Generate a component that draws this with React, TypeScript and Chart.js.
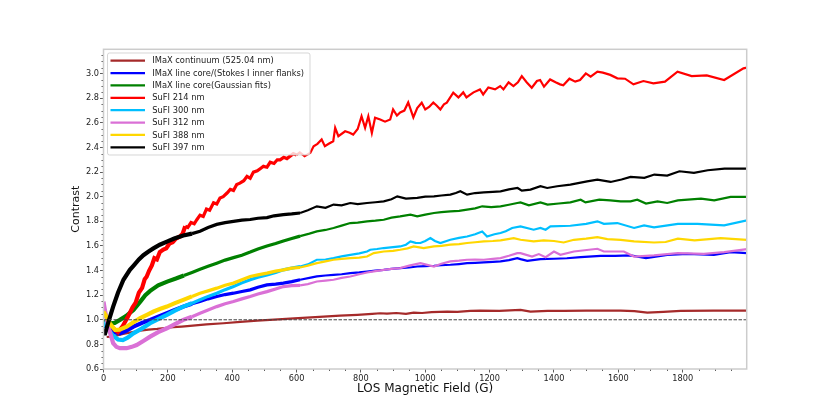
import React, { useEffect, useRef } from 'react';
import { Chart, registerables } from 'chart.js';

Chart.register(...registerables);

// axis ticks
const xTicks = [0, 200, 400, 600, 800, 1000, 1200, 1400, 1600, 1800];
const yTicks = [0.6, 0.8, 1.0, 1.2, 1.4, 1.6, 1.8, 2.0, 2.2, 2.4, 2.6, 2.8, 3.0];

// [B (G), contrast]
const imaxContinuum = [
  [10, 0.86], [30, 0.865], [61, 0.885], [90, 0.9], [114, 0.912], [140, 0.92], [167, 0.926], [190, 0.933],
  [217, 0.94], [243, 0.945], [269, 0.95], [320, 0.962], [373, 0.972], [425, 0.983], [478, 0.993], [530, 1.002],
  [580, 1.01], [632, 1.018], [684, 1.026], [735, 1.033], [789, 1.04], [835, 1.048], [860, 1.053], [881, 1.05],
  [910, 1.055], [940, 1.048], [964, 1.058], [990, 1.055], [1020, 1.062], [1068, 1.067], [1100, 1.065],
  [1140, 1.072], [1171, 1.075], [1230, 1.072], [1296, 1.08], [1327, 1.067], [1380, 1.072], [1431, 1.072],
  [1500, 1.075], [1607, 1.075], [1650, 1.07], [1690, 1.058], [1740, 1.065], [1794, 1.072], [1897, 1.075],
  [2000, 1.075],
];

const imaxStokes = [
  [0, 0.96], [15, 0.93], [30, 0.9], [51, 0.89], [70, 0.91], [93, 0.944], [120, 0.975], [145, 0.999],
  [170, 1.025], [197, 1.053], [222, 1.08], [248, 1.107], [275, 1.13], [300, 1.148], [325, 1.17], [352, 1.189],
  [378, 1.205], [404, 1.216], [430, 1.23], [456, 1.243], [480, 1.265], [508, 1.284], [535, 1.29], [559, 1.298],
  [585, 1.31], [611, 1.325], [640, 1.34], [663, 1.352], [690, 1.36], [715, 1.365], [740, 1.37], [767, 1.379],
  [795, 1.385], [819, 1.392], [845, 1.4], [871, 1.406], [895, 1.413], [922, 1.42], [950, 1.425], [975, 1.433],
  [1000, 1.436], [1027, 1.439], [1050, 1.443], [1078, 1.447], [1105, 1.453], [1130, 1.46], [1155, 1.463],
  [1182, 1.466], [1210, 1.47], [1234, 1.474], [1260, 1.485], [1286, 1.501], [1296, 1.493], [1317, 1.479],
  [1358, 1.493], [1400, 1.496], [1440, 1.5], [1483, 1.509], [1545, 1.52], [1590, 1.52], [1638, 1.523],
  [1686, 1.501], [1752, 1.528], [1815, 1.536], [1897, 1.528], [1949, 1.55], [2000, 1.542],
];

const imaxGauss = [
  [0, 0.99], [10, 0.97], [20, 0.972], [35, 0.975], [51, 0.999], [70, 1.03], [93, 1.08], [115, 1.15],
  [130, 1.2], [145, 1.235], [170, 1.28], [198, 1.31], [225, 1.335], [250, 1.36], [275, 1.385], [300, 1.41],
  [325, 1.435], [352, 1.46], [378, 1.485], [404, 1.505], [430, 1.525], [456, 1.55], [480, 1.575], [508, 1.6],
  [535, 1.62], [559, 1.64], [585, 1.66], [611, 1.68], [640, 1.7], [663, 1.718], [690, 1.73], [715, 1.746],
  [740, 1.765], [767, 1.786], [790, 1.79], [819, 1.8], [845, 1.805], [871, 1.813], [895, 1.83], [922, 1.84],
  [954, 1.854], [975, 1.84], [1000, 1.855], [1027, 1.868], [1050, 1.875], [1078, 1.881], [1105, 1.885],
  [1130, 1.895], [1155, 1.905], [1177, 1.922], [1205, 1.915], [1234, 1.922], [1260, 1.935], [1286, 1.949],
  [1296, 1.954], [1322, 1.93], [1358, 1.954], [1380, 1.936], [1415, 1.945], [1451, 1.954], [1483, 1.976],
  [1498, 1.954], [1541, 1.976], [1575, 1.97], [1607, 1.962], [1638, 1.962], [1659, 1.976], [1686, 1.944],
  [1722, 1.962], [1752, 1.949], [1785, 1.97], [1857, 1.984], [1898, 1.97], [1949, 1.998], [2000, 1.998],
];

const sufi214 = [
  [30, 0.93], [45, 0.9], [60, 0.95], [75, 1.02], [90, 1.1], [100, 1.14], [110, 1.22], [120, 1.26], [128, 1.33],
  [134, 1.35], [142, 1.4], [150, 1.44], [158, 1.5], [166, 1.49], [175, 1.55], [186, 1.57], [195, 1.58],
  [205, 1.62], [215, 1.63], [225, 1.66], [238, 1.677], [246, 1.7], [254, 1.76], [262, 1.75], [272, 1.79],
  [282, 1.78], [290, 1.813], [300, 1.85], [310, 1.84], [320, 1.9], [330, 1.89], [342, 1.95], [352, 1.94],
  [362, 1.99], [372, 2.0], [384, 2.03], [394, 2.06], [404, 2.05], [414, 2.1], [424, 2.11], [436, 2.13],
  [446, 2.166], [456, 2.15], [466, 2.2], [478, 2.21], [488, 2.23], [497, 2.247], [508, 2.24], [518, 2.28],
  [530, 2.27], [540, 2.3], [549, 2.3], [560, 2.32], [570, 2.31], [580, 2.33], [590, 2.35], [600, 2.34],
  [610, 2.36], [625, 2.33], [643, 2.357], [653, 2.41], [665, 2.43], [678, 2.465],
  [688, 2.41], [700, 2.43], [714, 2.451], [720, 2.56], [730, 2.492], [751, 2.532], [765, 2.52], [776, 2.505],
  [790, 2.55], [802, 2.654], [813, 2.56], [823, 2.654], [834, 2.519], [844, 2.642], [860, 2.628], [875, 2.61],
  [891, 2.628], [900, 2.709], [912, 2.66], [922, 2.685], [935, 2.7], [947, 2.766], [963, 2.644], [975, 2.72],
  [989, 2.764], [1000, 2.709], [1012, 2.73], [1025, 2.766], [1036, 2.74], [1047, 2.709], [1058, 2.75],
  [1067, 2.764], [1087, 2.845], [1103, 2.807], [1118, 2.848], [1128, 2.807], [1140, 2.83], [1150, 2.848],
  [1170, 2.872], [1180, 2.831], [1196, 2.888], [1217, 2.872], [1233, 2.899], [1243, 2.872], [1259, 2.929],
  [1274, 2.899], [1288, 2.93], [1300, 2.98], [1315, 2.93], [1331, 2.886], [1347, 2.94], [1357, 2.948],
  [1369, 2.894], [1388, 2.953], [1405, 2.93], [1419, 2.913], [1429, 2.905], [1448, 2.959], [1466, 2.935],
  [1481, 2.948], [1499, 3.002], [1514, 2.975], [1535, 3.016], [1552, 3.008], [1575, 2.99], [1597, 2.962],
  [1621, 2.959], [1647, 2.913], [1678, 2.94], [1709, 2.921], [1745, 2.935], [1784, 3.016], [1828, 2.98],
  [1875, 2.986], [1929, 2.948], [1989, 3.043], [2000, 3.05],
];

const sufi300 = [
  [0, 0.98], [15, 0.92], [30, 0.87], [45, 0.84], [60, 0.835], [75, 0.855], [93, 0.89], [120, 0.93],
  [145, 0.972], [170, 1.005], [197, 1.04], [222, 1.075], [248, 1.107], [275, 1.135], [300, 1.162], [325, 1.19],
  [352, 1.216], [378, 1.245], [404, 1.27], [430, 1.3], [456, 1.325], [480, 1.345], [508, 1.365], [535, 1.385],
  [559, 1.406], [585, 1.42], [611, 1.433], [635, 1.45], [663, 1.488], [690, 1.49], [715, 1.501], [740, 1.515],
  [767, 1.528], [795, 1.54], [819, 1.555], [829, 1.569], [850, 1.575], [871, 1.583], [900, 1.59], [922, 1.596],
  [940, 1.61], [954, 1.637], [970, 1.625], [985, 1.624], [1000, 1.64], [1016, 1.664], [1030, 1.64],
  [1047, 1.624], [1078, 1.65], [1105, 1.665], [1130, 1.677], [1155, 1.695], [1177, 1.718], [1192, 1.677],
  [1215, 1.695], [1234, 1.705], [1250, 1.72], [1270, 1.746], [1296, 1.759], [1337, 1.732], [1358, 1.746],
  [1374, 1.732], [1389, 1.759], [1451, 1.764], [1500, 1.78], [1535, 1.8], [1555, 1.78], [1597, 1.786],
  [1649, 1.746], [1680, 1.767], [1711, 1.751], [1785, 1.78], [1846, 1.78], [1929, 1.767], [2000, 1.808],
];

const sufi312 = [
  [0, 1.148], [5, 1.07], [15, 0.944], [30, 0.81], [40, 0.78], [51, 0.769], [72, 0.769], [88, 0.78],
  [103, 0.795], [125, 0.83], [145, 0.863], [170, 0.9], [197, 0.931], [222, 0.965], [248, 0.999], [275, 1.025],
  [300, 1.053], [325, 1.08], [352, 1.107], [378, 1.13], [404, 1.148], [430, 1.17], [456, 1.189], [480, 1.21],
  [508, 1.229], [535, 1.25], [559, 1.27], [585, 1.278], [611, 1.28], [635, 1.29], [663, 1.311], [690, 1.318],
  [715, 1.325], [740, 1.34], [767, 1.352], [795, 1.37], [819, 1.384], [845, 1.395], [871, 1.406], [895, 1.413],
  [922, 1.42], [950, 1.44], [985, 1.46], [1000, 1.45], [1027, 1.433], [1050, 1.455], [1078, 1.474],
  [1105, 1.48], [1130, 1.488], [1155, 1.49], [1182, 1.488], [1210, 1.495], [1234, 1.501], [1260, 1.52],
  [1286, 1.542], [1296, 1.542], [1332, 1.514], [1353, 1.534], [1374, 1.509], [1400, 1.555], [1420, 1.528],
  [1462, 1.555], [1535, 1.577], [1555, 1.555], [1617, 1.555], [1649, 1.514], [1711, 1.523], [1785, 1.542],
  [1866, 1.536], [1929, 1.55], [2000, 1.575],
];

const sufi388 = [
  [0, 1.067], [10, 1.02], [20, 0.97], [36, 0.918], [50, 0.92], [72, 0.944], [93, 0.98], [114, 1.013],
  [135, 1.04], [156, 1.067], [177, 1.09], [197, 1.107], [222, 1.135], [248, 1.162], [275, 1.19], [300, 1.216],
  [325, 1.235], [352, 1.257], [378, 1.28], [404, 1.298], [430, 1.325], [456, 1.352], [480, 1.365], [508, 1.379],
  [535, 1.395], [559, 1.406], [585, 1.42], [611, 1.425], [635, 1.44], [663, 1.46], [690, 1.475], [715, 1.488],
  [740, 1.495], [767, 1.501], [795, 1.505], [819, 1.514], [840, 1.542], [871, 1.555], [900, 1.56], [922, 1.569],
  [945, 1.58], [964, 1.596], [995, 1.583], [1027, 1.596], [1050, 1.6], [1078, 1.61], [1105, 1.615],
  [1130, 1.624], [1155, 1.63], [1182, 1.637], [1210, 1.64], [1234, 1.645], [1275, 1.664], [1296, 1.65],
  [1337, 1.637], [1368, 1.645], [1400, 1.64], [1430, 1.628], [1462, 1.65], [1500, 1.66], [1535, 1.672],
  [1566, 1.656], [1607, 1.65], [1649, 1.637], [1711, 1.628], [1747, 1.632], [1785, 1.659], [1837, 1.645],
  [1918, 1.664], [2000, 1.65],
];

const sufi397 = [
  [0, 0.89], [5, 0.89], [15, 0.98], [30, 1.107], [45, 1.22], [62, 1.325], [82, 1.406], [95, 1.445],
  [110, 1.49], [124, 1.525], [140, 1.555], [155, 1.58], [175, 1.61], [197, 1.635], [220, 1.66], [248, 1.685],
  [275, 1.7], [300, 1.72], [325, 1.75], [352, 1.775], [378, 1.79], [404, 1.8], [430, 1.81], [456, 1.815],
  [480, 1.825], [508, 1.83], [530, 1.845], [559, 1.854], [585, 1.86], [611, 1.868], [635, 1.89], [663, 1.922],
  [690, 1.91], [715, 1.936], [740, 1.93], [767, 1.949], [790, 1.94], [819, 1.949], [845, 1.955], [871, 1.962],
  [895, 1.98], [913, 2.003], [940, 1.985], [975, 1.99], [1000, 2.0], [1027, 2.003], [1050, 2.01],
  [1078, 2.017], [1095, 2.03], [1109, 2.044], [1130, 2.017], [1155, 2.03], [1182, 2.036], [1210, 2.04],
  [1234, 2.044], [1260, 2.06], [1287, 2.071], [1300, 2.05], [1327, 2.058], [1358, 2.085], [1379, 2.071],
  [1410, 2.085], [1451, 2.098], [1475, 2.11], [1503, 2.125], [1535, 2.139], [1576, 2.12], [1610, 2.14],
  [1638, 2.161], [1681, 2.153], [1712, 2.18], [1752, 2.172], [1790, 2.207], [1835, 2.194], [1878, 2.215],
  [1930, 2.229], [2000, 2.229],
];

const unityLine = [[0, 1.0], [2000, 1.0]];

const seriesLabels = [
  'IMaX continuum (525.04 nm)',
  'IMaX line core/(Stokes I inner flanks)',
  'IMaX line core(Gaussian fits)',
  'SuFI 214 nm',
  'SuFI 300 nm',
  'SuFI 312 nm',
  'SuFI 388 nm',
  'SuFI 397 nm',
];
const seriesColors = ['#a52a2a', '#0000ff', '#008000', '#ff0000', '#00bfff', '#da70d6', '#ffd700', '#000000'];
const seriesData = [imaxContinuum, imaxStokes, imaxGauss, sufi214, sufi300, sufi312, sufi388, sufi397];

const FONT = "'DejaVu Sans', sans-serif";

// noisy low-field part of the curves reads as a thicker band
const bandWidth = (x: number) => (x < 250 ? 4.2 : x < 600 ? 3.2 : 2.2);

const decorPlugin = {
  id: 'decor',
  afterDatasetsDraw(chart: any) {
    const { ctx, chartArea: a, scales } = chart;
    const xs = scales.x;
    const ys = scales.y;
    ctx.save();

    // minor ticks
    ctx.strokeStyle = '#333';
    ctx.lineWidth = 0.8;
    ctx.beginPath();
    for (let v = 0; v <= 2000; v += 50) {
      if (v % 200 === 0) continue;
      const px = Math.round(xs.getPixelForValue(v)) + 0.5;
      if (px > a.right) break;
      ctx.moveTo(px, a.bottom);
      ctx.lineTo(px, a.bottom + 2);
    }
    for (let i = 12; i <= 64; i++) {
      if (i % 4 === 0) continue;
      const py = Math.round(ys.getPixelForValue(i * 0.05)) + 0.5;
      if (py < a.top) break;
      ctx.moveTo(a.left, py);
      ctx.lineTo(a.left - 2, py);
    }
    ctx.stroke();

    // frame
    ctx.strokeStyle = '#cccccc';
    ctx.lineWidth = 1.5;
    ctx.strokeRect(a.left, a.top, a.right - a.left, a.bottom - a.top);

    // legend
    const bx = 107.5;
    const by = 53;
    const bw = 202.5;
    const bh = 102;
    ctx.beginPath();
    ctx.roundRect(bx, by, bw, bh, 2);
    ctx.fillStyle = 'rgba(255,255,255,0.8)';
    ctx.fill();
    ctx.strokeStyle = 'rgba(204,204,204,0.8)';
    ctx.lineWidth = 1;
    ctx.stroke();
    ctx.font = `8.3px ${FONT}`;
    ctx.textBaseline = 'middle';
    seriesLabels.forEach((label, i) => {
      const y = 60.7 + i * 12.37;
      ctx.strokeStyle = seriesColors[i];
      ctx.lineWidth = 2.2;
      ctx.beginPath();
      ctx.moveTo(110.5, y);
      ctx.lineTo(145, y);
      ctx.stroke();
      ctx.fillStyle = '#222';
      ctx.fillText(label, 152.3, y + 0.5);
    });
    ctx.restore();
  },
};

const App = () => {
  const canvasRef = useRef<HTMLCanvasElement>(null);

  useEffect(() => {
    document.body.style.margin = '0';
    if (!canvasRef.current) return;
    const datasets: any[] = seriesData.map((d, i) => ({
      label: seriesLabels[i],
      data: d,
      borderColor: seriesColors[i],
      borderWidth: 2.2,
      pointRadius: 0,
      tension: 0,
      order: 8 - i,
      segment: i === 0 ? undefined : { borderWidth: (c: any) => bandWidth(c.p0.parsed.x) },
    }));
    datasets.push({
      label: 'unity',
      data: unityLine,
      borderColor: '#444',
      borderWidth: 1,
      borderDash: [3.5, 1.5],
      pointRadius: 0,
      order: -1,
    });

    const chart = new Chart(canvasRef.current, {
      type: 'line',
      data: { datasets },
      plugins: [decorPlugin],
      options: {
        animation: false,
        responsive: false,
        devicePixelRatio: 1,
        layout: { padding: { left: 0, right: 83.3, top: 49.3, bottom: 0 } },
        plugins: { legend: { display: false }, tooltip: { enabled: false } },
        scales: {
          x: {
            type: 'linear',
            min: 0,
            max: 1999,
            afterBuildTicks: (s: any) => {
              s.ticks = xTicks.map((v) => ({ value: v }));
            },
            afterFit: (s: any) => {
              s.height = 46;
            },
            ticks: {
              font: { family: FONT, size: 8.2 },
              color: '#222',
              padding: 1,
              maxRotation: 0,
              autoSkip: false,
              callback: (v: any) => String(v),
            },
            grid: { drawOnChartArea: false, tickLength: 3.5, tickColor: '#333', tickWidth: 0.8 },
            border: { display: false },
            title: {
              display: true,
              text: 'LOS Magnetic Field (G)',
              font: { family: FONT, size: 12 },
              color: '#111',
              padding: { top: 0, bottom: 18.8 },
            },
          },
          y: {
            type: 'linear',
            min: 0.6,
            max: 3.198,
            afterBuildTicks: (s: any) => {
              s.ticks = yTicks.map((v) => ({ value: v }));
            },
            afterFit: (s: any) => {
              s.width = 103.5;
            },
            ticks: {
              font: { family: FONT, size: 8.2 },
              color: '#222',
              padding: 1,
              autoSkip: false,
              callback: (v: any) => Number(v).toFixed(1),
            },
            grid: { drawOnChartArea: false, tickLength: 3.5, tickColor: '#333', tickWidth: 0.8 },
            border: { display: false },
            title: {
              display: true,
              text: 'Contrast',
              font: { family: FONT, size: 11 },
              color: '#111',
              padding: { top: 69.4, bottom: 0 },
            },
          },
        },
      },
    });
    return () => chart.destroy();
  }, []);

  return (
    <div style={{ width: 830, height: 415 }}>
      <canvas ref={canvasRef} width={830} height={415} />
    </div>
  );
};

export default App;
